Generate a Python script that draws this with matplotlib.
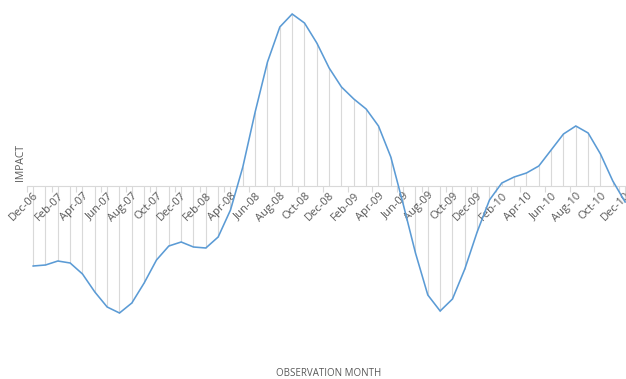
import matplotlib
import matplotlib.pyplot as plt
import numpy as np

matplotlib.use("Agg")

plt.rcParams.update(
    {
        "font.family": ["Open Sans", "DejaVu Sans"],
        "font.size": 8,
    }
)

# monthly observations, Dec-06 .. Dec-10
months = [
    "Dec-06", "Jan-07", "Feb-07", "Mar-07", "Apr-07", "May-07", "Jun-07",
    "Jul-07", "Aug-07", "Sep-07", "Oct-07", "Nov-07", "Dec-07", "Jan-08",
    "Feb-08", "Mar-08", "Apr-08", "May-08", "Jun-08", "Jul-08", "Aug-08",
    "Sep-08", "Oct-08", "Nov-08", "Dec-08", "Jan-09", "Feb-09", "Mar-09",
    "Apr-09", "May-09", "Jun-09", "Jul-09", "Aug-09", "Sep-09", "Oct-09",
    "Nov-09", "Dec-09", "Jan-10", "Feb-10", "Mar-10", "Apr-10", "May-10",
    "Jun-10", "Jul-10", "Aug-10", "Sep-10", "Oct-10", "Nov-10", "Dec-10",
]
impact = [
    -0.80, -0.79, -0.75, -0.77, -0.88, -1.06, -1.21, -1.27, -1.17, -0.97,
    -0.74, -0.60, -0.56, -0.61, -0.62, -0.51, -0.24, 0.19, 0.74, 1.24,
    1.59, 1.72, 1.63, 1.43, 1.18, 0.99, 0.87, 0.77, 0.60, 0.29,
    -0.18, -0.67, -1.09, -1.25, -1.13, -0.83, -0.46, -0.14, 0.03, 0.09,
    0.13, 0.20, 0.36, 0.52, 0.60, 0.53, 0.32, 0.05, -0.16,
]

x = np.arange(len(months))
y = np.array(impact)

line_col = "#5b9bd5"
grid_col = "#d9d9d9"
text_col = "#595959"

fig = plt.figure(figsize=(6.26, 3.79), dpi=100)
ax = fig.add_axes([27 / 626, 1 - 330 / 379, 604.3 / 626, 325 / 379])

# drop lines from each point to the zero axis
ax.vlines(x, 0, y, color=grid_col, lw=0.8, zorder=1)
ax.plot(x, y, color=line_col, lw=1.15, zorder=3, solid_joinstyle="miter")

ax.set_xlim(-0.5, len(months) - 0.5)
ax.set_ylim(-1.44, 1.81)

for side in ("top", "right", "left"):
    ax.spines[side].set_visible(False)
ax.spines["bottom"].set_position(("data", 0))
ax.spines["bottom"].set_color(grid_col)
ax.spines["bottom"].set_linewidth(0.8)
ax.spines["bottom"].set_zorder(2)

ax.set_yticks([])
ax.set_xticks(x[::2])
ax.set_xticklabels(months[::2], rotation=45, ha="right", va="top",
                   rotation_mode="anchor", color=text_col, fontsize=8)
ax.tick_params(axis="x", length=0, pad=3)
ax.set_xticks(np.arange(-0.5, len(months), 2), minor=True)
ax.tick_params(axis="x", which="minor", length=4, color=grid_col, width=0.8)

fig.text(20 / 626, 1 - 163 / 379, "IMPACT", rotation=90, ha="center",
         va="center", color=text_col, fontsize=7.5)
fig.text(329 / 626, 1 - 373 / 379, "OBSERVATION MONTH", ha="center",
         va="center", color=text_col, fontsize=7)

fig.savefig("out.png", dpi=100)
plt.close(fig)
